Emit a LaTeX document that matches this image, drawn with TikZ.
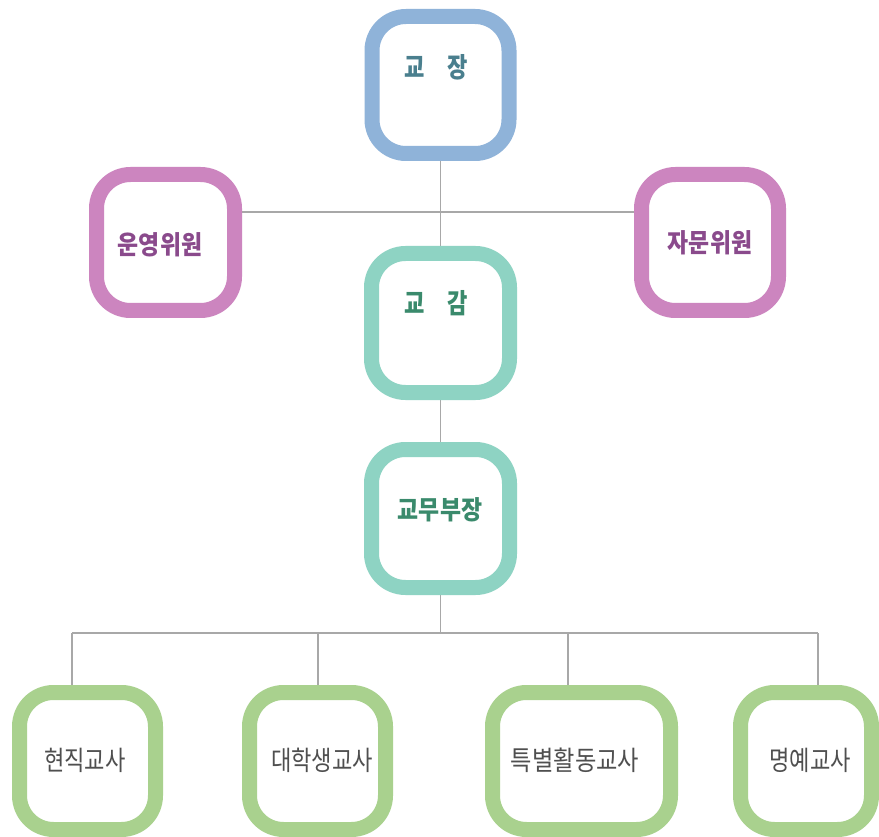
\documentclass[tikz,border=0pt]{standalone}
\usepackage{fontspec}
\newfontfamily\kr{Noto Sans CJK KR}
\usetikzlibrary{calc}
\pgfdeclarelayer{background}
\pgfsetlayers{background,main}
\definecolor{cblue}{HTML}{8FB3D9}
\definecolor{cpink}{HTML}{CC85BF}
\definecolor{cteal}{HTML}{8ED3C3}
\definecolor{cgreen}{HTML}{A9D18E}
\definecolor{tblue}{HTML}{4A7F8E}
\definecolor{tpink}{HTML}{8A4A8C}
\definecolor{tteal}{HTML}{3A8A6C}
\definecolor{tgray}{HTML}{4F4F4F}
\definecolor{linegray}{HTML}{A8A8A8}
\begin{document}
\begin{tikzpicture}[x=1pt,y=-1pt,
  box/.style={draw, line width=15pt, rounded corners=34pt, fill=white, inner sep=0pt},
  conn/.style={draw=linegray, line width=1.3pt},
  lbltop/.style={inner sep=0pt, font=\kr\bfseries\fontsize{26}{26}\selectfont},
  lblbot/.style={inner sep=0pt, text=tgray, font=\kr\fontsize{27}{27}\selectfont}]
\begin{pgfonlayer}{background}
\fill[white] (0,0) rectangle (879,837);
\end{pgfonlayer}
\useasboundingbox (0,0) rectangle (879,837);

% boxes
\node[box, draw=cblue, minimum width=137pt, minimum height=137pt] (jang) at (440.5,85) {};
\node[box, draw=cpink, minimum width=138pt, minimum height=136pt] (un) at (165.5,242.5) {};
\node[box, draw=cpink, minimum width=137pt, minimum height=136pt] (ja) at (710,242.5) {};
\node[box, draw=cteal, minimum width=138pt, minimum height=139pt] (gam) at (440.5,323) {};
\node[box, draw=cteal, minimum width=138pt, minimum height=138pt] (gmb) at (440.5,518.5) {};
\node[box, draw=cgreen, minimum width=136pt, minimum height=137pt] (hj) at (87.5,761) {};
\node[box, draw=cgreen, minimum width=136pt, minimum height=137pt] (dh) at (317.5,761) {};
\node[box, draw=cgreen, minimum width=178pt, minimum height=137pt] (tb) at (581.5,761) {};
\node[box, draw=cgreen, minimum width=131pt, minimum height=137pt] (my) at (806,761) {};

% labels
\node[lbltop, text=tblue] (tjang) at (436,67) {\scalebox{0.85}[1.05]{교\hspace{26pt}장}};
\node[lbltop, text=tpink] (tun) at (160,245) {\scalebox{0.88}[1]{운영위원}};
\node[lbltop, text=tpink] (tja) at (710,243) {\scalebox{0.88}[1]{자문위원}};
\node[lbltop, text=tteal] (tgam) at (436,303) {\scalebox{0.85}[1.05]{교\hspace{26pt}감}};
\node[lbltop, text=tteal] (tgmb) at (440,510) {\scalebox{0.88}[1]{교무부장}};
\node[lblbot] (thj) at (85,760) {\scalebox{0.82}[1]{현직교사}};
\node[lblbot] (tdh) at (322,760) {\scalebox{0.82}[1]{대학생교사}};
\node[lblbot] (ttb) at (575,760) {\scalebox{0.86}[1]{특별활동교사}};
\node[lblbot] (tmy) at (810,760) {\scalebox{0.82}[1]{명예교사}};

% connectors
\coordinate (hub) at (440.5,212);
\coordinate (bus) at (440.5,633);
\coordinate (c1) at (72,633);
\coordinate (c2) at (318,633);
\coordinate (c3) at (568,633);
\coordinate (c4) at (818,633);
\begin{pgfonlayer}{background}
\draw[conn] (jang.south) -- (gam.north);
\draw[conn] (hub -| un.east) -- (hub -| ja.west);
\draw[conn] (gam.south) -- (gmb.north);
\draw[conn] (gmb.south) -- (bus);
\draw[conn] (c1) -- (c4);
\draw[conn] (c1) -- (c1 |- hj.north);
\draw[conn] (c2) -- (c2 |- dh.north);
\draw[conn] (c3) -- (c3 |- tb.north);
\draw[conn] (c4) -- (c4 |- my.north);
\end{pgfonlayer}
\end{tikzpicture}
\end{document}
